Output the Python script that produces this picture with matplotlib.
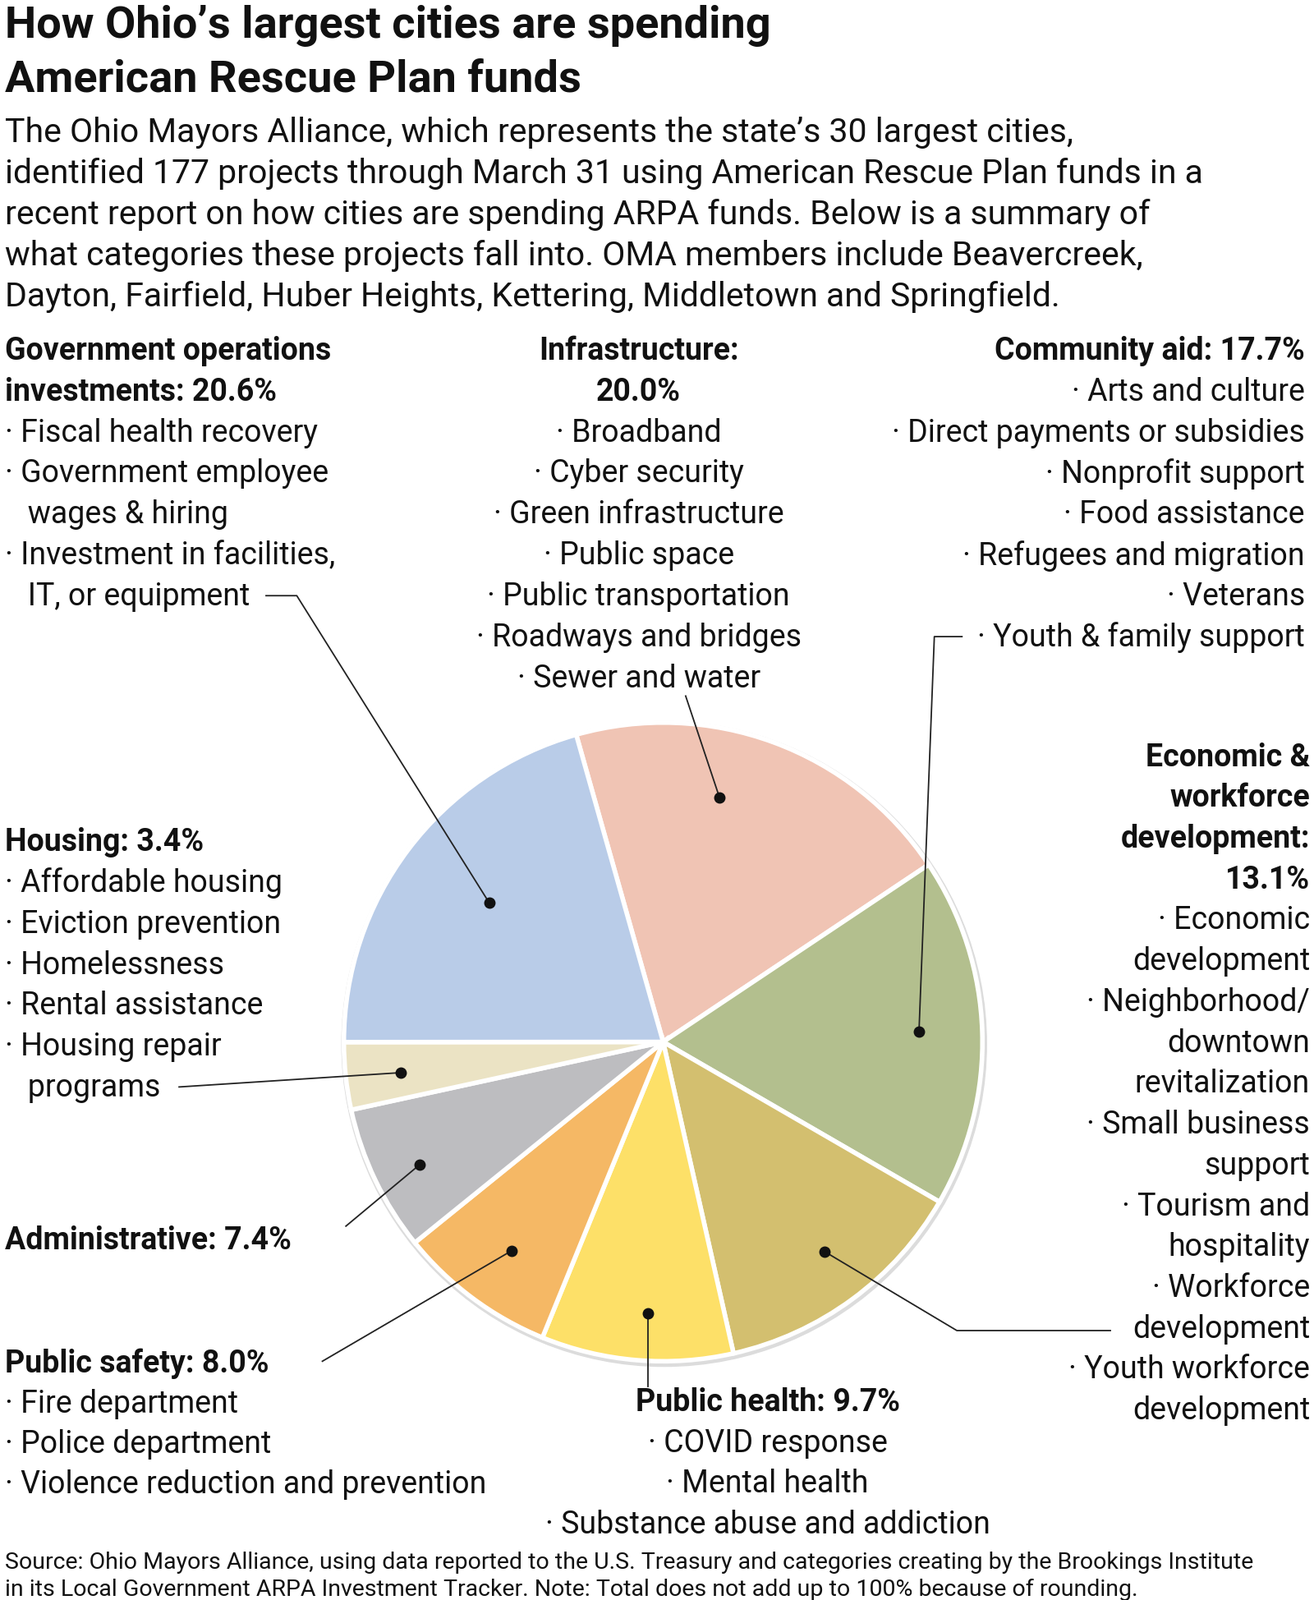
import matplotlib.pyplot as plt

### DATA ###
categories = ['Infrastructure', 'Community aid', 'Economic & workforce development',
              'Public health', 'Public safety', 'Administrative', 'Housing',
              'Government operations investments']
shares = [20.0, 17.7, 13.1, 9.7, 8.0, 7.4, 3.4, 20.6]
colors = ['#f0c4b4', '#b3bf8e', '#d3bf6f', '#fde068', '#f5b865', '#bdbdc0', '#ebe3c4', '#b9cce8']

### LAYOUT (reference pixel coords, y from top) ###
W = 1284
H = W * 1948 / 1600
FONT = 'Roboto'

fig = plt.figure(figsize=(16, 19.48), dpi=100)
ax = fig.add_axes([0, 0, 1, 1])

def Y(y):
    return H - y

def T(x, y, s, size=27, bold=False, ha='left', color='#111111'):
    ax.text(x, Y(y), s, fontsize=size, fontweight='bold' if bold else 'normal',
            ha=ha, va='center', family=FONT, color=color)

def block(x, y0, lines, ha='left', step=40, size=27):
    for i, (s, b) in enumerate(lines):
        T(x, y0 + i * step, s, size=size, bold=b, ha=ha)

# shadow + pie
cx, cy, r = 648, 1018, 312
ax.add_patch(plt.Circle((cx + 1, Y(cy) - 2), r + 3, color='#dcdcdc', zorder=0))
ax.pie(shares, colors=colors, startangle=105.8, counterclock=False,
       center=(cx, Y(cy)), radius=r, frame=True,
       wedgeprops=dict(edgecolor='white', linewidth=4))
ax.set_xlim(0, W)
ax.set_ylim(0, H)
ax.set_aspect('equal')
ax.axis('off')

# leader lines and dots
leaders = [
    [(260, 582), (290, 582), (478, 882)],
    [(670, 680), (703, 779)],
    [(940, 622), (913, 622), (898, 1008)],
    [(1085, 1300), (935, 1300), (806, 1223)],
    [(633, 1355), (633, 1283)],
    [(315, 1330), (500, 1222)],
    [(338, 1198), (410, 1138)],
    [(175, 1062), (392, 1048)],
]
for pts in leaders:
    xs = [p[0] for p in pts]
    ys = [Y(p[1]) for p in pts]
    ax.plot(xs, ys, color='#222222', lw=1.3, zorder=5)
    ax.plot(xs[-1], ys[-1], 'o', color='#111111', ms=9, zorder=6)

# title & intro
T(5, 25, 'How Ohio’s largest cities are spending', size=39, bold=True)
T(5, 78, 'American Rescue Plan funds', size=39, bold=True)
intro = ['The Ohio Mayors Alliance, which represents the state’s 30 largest cities,',
         'identified 177 projects through March 31 using American Rescue Plan funds in a',
         'recent report on how cities are spending ARPA funds. Below is a summary of',
         'what categories these projects fall into. OMA members include Beavercreek,',
         'Dayton, Fairfield, Huber Heights, Kettering, Middletown and Springfield.']
block(5, 130, [(s, False) for s in intro], size=29.5)

B = '· '
block(5, 343, [('Government operations', True), ('investments: 20.6%', True),
               (B + 'Fiscal health recovery', False), (B + 'Government employee', False),
               ('   wages & hiring', False), (B + 'Investment in facilities,', False),
               ('   IT, or equipment', False)])
block(624, 343, [('Infrastructure:', True), ('20.0%', True),
                 (B + 'Broadband', False), (B + 'Cyber security', False),
                 (B + 'Green infrastructure', False), (B + 'Public space', False),
                 (B + 'Public transportation', False), (B + 'Roadways and bridges', False),
                 (B + 'Sewer and water', False)], ha='center')
block(1275, 343, [('Community aid: 17.7%', True), (B + 'Arts and culture', False),
                  (B + 'Direct payments or subsidies', False), (B + 'Nonprofit support', False),
                  (B + 'Food assistance', False), (B + 'Refugees and migration', False),
                  (B + 'Veterans', False), (B + 'Youth & family support', False)], ha='right')
block(1280, 740, [('Economic &', True), ('workforce', True), ('development:', True),
                  ('13.1%', True), (B + 'Economic', False), ('development', False),
                  (B + 'Neighborhood/', False), ('downtown', False), ('revitalization', False),
                  (B + 'Small business', False), ('support', False), (B + 'Tourism and', False),
                  ('hospitality', False), (B + 'Workforce', False), ('development', False),
                  (B + 'Youth workforce', False), ('development', False)], ha='right', step=39.9)
block(5, 823, [('Housing: 3.4%', True), (B + 'Affordable housing', False),
               (B + 'Eviction prevention', False), (B + 'Homelessness', False),
               (B + 'Rental assistance', False), (B + 'Housing repair', False),
               ('   programs', False)])
T(5, 1212, 'Administrative: 7.4%', bold=True)
block(5, 1332, [('Public safety: 8.0%', True), (B + 'Fire department', False),
                (B + 'Police department', False), (B + 'Violence reduction and prevention', False)],
      step=39.5)
block(750, 1370, [('Public health: 9.7%', True), (B + 'COVID response', False),
                  (B + 'Mental health', False), (B + 'Substance abuse and addiction', False)],
      ha='center')

T(5, 1527, 'Source: Ohio Mayors Alliance, using data reported to the U.S. Treasury and categories creating by the Brookings Institute',
  size=20.5)
T(5, 1553, 'in its Local Government ARPA Investment Tracker. Note: Total does not add up to 100% because of rounding.',
  size=20.5)

plt.savefig('out.png', dpi=100)
